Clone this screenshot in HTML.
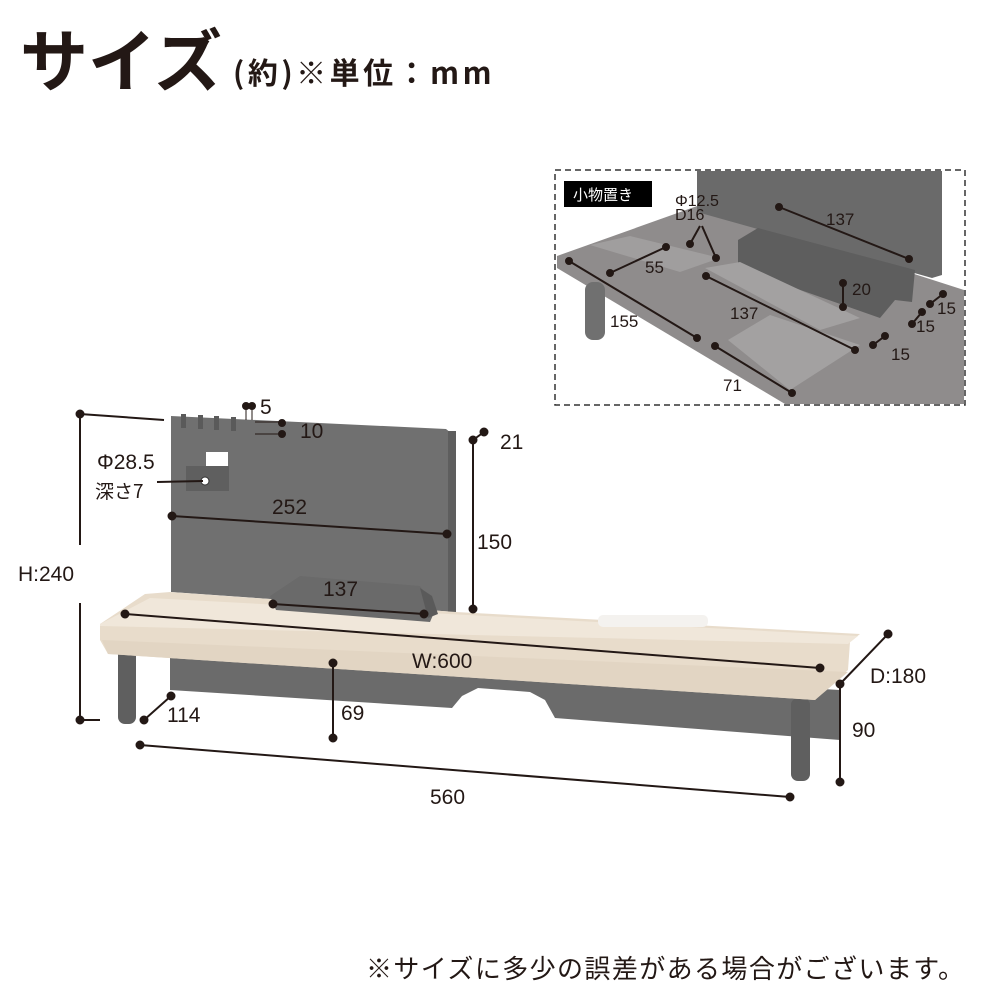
<!DOCTYPE html>
<html><head><meta charset="utf-8"><style>
html,body{margin:0;padding:0;background:#fff;}
svg{display:block;}
text{font-family:"Liberation Sans","Noto Sans CJK JP",sans-serif;fill:#231815;}
</style></head><body>
<svg width="1000" height="1000" viewBox="0 0 1000 1000" xmlns="http://www.w3.org/2000/svg">
<text x="20" y="86" font-size="68" font-weight="bold" style="font-family:'Noto Sans CJK JP',sans-serif">サイズ</text>
<text x="233" y="84" font-size="30" font-weight="bold" letter-spacing="3.5" style="font-family:'Noto Sans CJK JP',sans-serif">(約)※単位：mm</text>

<!-- inset -->
<rect x="555" y="170" width="410" height="235" fill="none" stroke="#333" stroke-width="1.5" stroke-dasharray="6,4"/>
<polygon points="557,256 700,205 964,290 964,404 785,404 557,268" fill="#8f8c8c"/>
<polygon points="697,171 942,171 942,275 932,278 697,212" fill="#6a6a6a"/>
<polygon points="738,240 758,228 915,270 912,302 895,300 880,318 738,268" fill="#5e5e5e"/>
<polygon points="590,245 630,236 720,258 680,272" fill="#a09e9e"/>
<polygon points="705,268 740,262 860,318 820,330" fill="#a3a1a1"/>
<polygon points="728,340 770,315 860,345 790,390" fill="#a3a1a1"/>
<rect x="585" y="282" width="20" height="58" rx="8" fill="#707070"/>
<rect x="564" y="181" width="88" height="26" fill="#000"/>
<text x="573" y="200" font-size="15" style="fill:#fff;font-family:'Noto Sans CJK JP',sans-serif">小物置き</text>
<text x="675" y="206" font-size="16">Φ12.5</text>
<text x="675" y="220" font-size="16">D16</text>
<g stroke="#231815" stroke-width="2" fill="#231815">
<line x1="779" y1="207" x2="909" y2="259"/><circle cx="779" cy="207" r="3"/><circle cx="909" cy="259" r="3"/>
<line x1="610" y1="273" x2="666" y2="247"/><circle cx="610" cy="273" r="3"/><circle cx="666" cy="247" r="3"/>
<line x1="569" y1="261" x2="697" y2="338"/><circle cx="569" cy="261" r="3"/><circle cx="697" cy="338" r="3"/>
<line x1="706" y1="276" x2="855" y2="350"/><circle cx="706" cy="276" r="3"/><circle cx="855" cy="350" r="3"/>
<line x1="715" y1="346" x2="792" y2="393"/><circle cx="715" cy="346" r="3"/><circle cx="792" cy="393" r="3"/>
<line x1="843" y1="283" x2="843" y2="307"/><circle cx="843" cy="283" r="3"/><circle cx="843" cy="307" r="3"/>
<line x1="690" y1="244" x2="700" y2="226"/><line x1="716" y1="258" x2="702" y2="226"/><circle cx="690" cy="244" r="3"/><circle cx="716" cy="258" r="3"/>
<line x1="930" y1="304" x2="943" y2="294"/><circle cx="930" cy="304" r="3"/><circle cx="943" cy="294" r="3"/>
<line x1="912" y1="324" x2="922" y2="312"/><circle cx="912" cy="324" r="3"/><circle cx="922" cy="312" r="3"/>
<line x1="873" y1="345" x2="885" y2="336"/><circle cx="873" cy="345" r="3"/><circle cx="885" cy="336" r="3"/>
</g>
<g font-size="17">
<text x="826" y="225">137</text><text x="645" y="273">55</text><text x="610" y="327">155</text>
<text x="730" y="319">137</text><text x="852" y="295">20</text><text x="937" y="314">15</text>
<text x="916" y="332">15</text><text x="891" y="360">15</text><text x="723" y="391">71</text>
</g>

<!-- main furniture -->
<polygon points="170,652 840,690 840,740 555,718 545,700 530,692 478,688 462,696 452,708 170,690" fill="#6b6b6b"/>
<rect x="118" y="648" width="18" height="76" rx="7" fill="#5f5f5f"/>
<rect x="791" y="698" width="19" height="83" rx="7" fill="#5f5f5f"/>
<polygon points="171,416 446,429 456,437 456,612 171,592" fill="#707070"/>
<rect x="448" y="431" width="8" height="181" fill="#5e5e5e"/>
<g fill="#5a5a5a"><rect x="181" y="414" width="5" height="14"/><rect x="198" y="415" width="5" height="14"/><rect x="214" y="416" width="5" height="14"/><rect x="231" y="417" width="5" height="14"/></g>
<rect x="186" y="466" width="43" height="25" fill="#5f5f5f"/>
<rect x="206" y="452" width="22" height="14" fill="#fff"/>
<circle cx="205" cy="481" r="4" fill="#fff" stroke="#333"/>
<polygon points="100,624 145,594 170,592 456,612 860,634 850,642 848,670 815,700 108,654 100,640" fill="#e8dccb"/>
<polygon points="100,624 150,598 858,636 848,644 100,626" fill="#f0e7da"/>
<polygon points="102,640 848,672 815,700 108,654" fill="#e2d5c3"/>
<rect x="598" y="615" width="110" height="12" rx="5" fill="#f4f2ef"/>
<polygon points="270,596 300,576 420,586 436,608 430,622 276,610" fill="#6a6a6a"/>
<polygon points="420,588 432,596 438,614 428,618" fill="#5a5a5a"/>

<g stroke="#231815" stroke-width="2" fill="#231815">
<line x1="80" y1="414" x2="164" y2="420"/><line x1="80" y1="414" x2="80" y2="545"/><line x1="80" y1="603" x2="80" y2="720"/><line x1="80" y1="720" x2="100" y2="720"/>
<circle cx="80" cy="414" r="3.5"/><circle cx="80" cy="720" r="3.5"/>
<line x1="172" y1="516" x2="447" y2="534"/><circle cx="172" cy="516" r="3.5"/><circle cx="447" cy="534" r="3.5"/>
<line x1="473" y1="440" x2="473" y2="609"/><line x1="473" y1="440" x2="484" y2="432"/><circle cx="473" cy="440" r="3.5"/><circle cx="484" cy="432" r="3.5"/><circle cx="473" cy="609" r="3.5"/>
<line x1="273" y1="604" x2="424" y2="614"/><circle cx="273" cy="604" r="3.5"/><circle cx="424" cy="614" r="3.5"/>
<line x1="125" y1="614" x2="820" y2="668"/><circle cx="125" cy="614" r="3.5"/><circle cx="820" cy="668" r="3.5"/>
<line x1="840" y1="684" x2="888" y2="634"/><circle cx="840" cy="684" r="3.5"/><circle cx="888" cy="634" r="3.5"/>
<line x1="840" y1="684" x2="840" y2="782"/><circle cx="840" cy="782" r="3.5"/>
<line x1="333" y1="663" x2="333" y2="738"/><circle cx="333" cy="663" r="3.5"/><circle cx="333" cy="738" r="3.5"/>
<line x1="144" y1="720" x2="171" y2="696"/><circle cx="144" cy="720" r="3.5"/><circle cx="171" cy="696" r="3.5"/>
<line x1="140" y1="745" x2="790" y2="797"/><circle cx="140" cy="745" r="3.5"/><circle cx="790" cy="797" r="3.5"/>
<line x1="246" y1="406" x2="246" y2="420" stroke-width="1"/><line x1="252" y1="406" x2="252" y2="420" stroke-width="1"/><circle cx="246" cy="406" r="3"/><circle cx="252" cy="406" r="3"/>
<line x1="255" y1="422" x2="285" y2="422" stroke-width="1"/><line x1="255" y1="434" x2="285" y2="434" stroke-width="1"/><circle cx="282" cy="423" r="3"/><circle cx="282" cy="434" r="3"/>
<line x1="157" y1="482" x2="203" y2="481"/>
</g>
<g font-size="21">
<text x="260" y="414">5</text><text x="300" y="438">10</text><text x="97" y="469">Φ28.5</text>
<text x="95" y="498" style="font-family:'Noto Sans CJK JP',sans-serif" font-size="19">深さ7</text>
<text x="272" y="514">252</text><text x="500" y="449">21</text><text x="477" y="549">150</text>
<text x="323" y="596">137</text><text x="18" y="581">H:240</text><text x="412" y="668">W:600</text>
<text x="870" y="683">D:180</text><text x="852" y="737">90</text><text x="341" y="720">69</text>
<text x="167" y="722">114</text><text x="430" y="804">560</text>
</g>
<text x="366" y="978" font-size="26" letter-spacing="1.4" style="font-family:'Noto Sans CJK JP',sans-serif">※サイズに多少の誤差がある場合がございます。</text>
</svg>
</body></html>
